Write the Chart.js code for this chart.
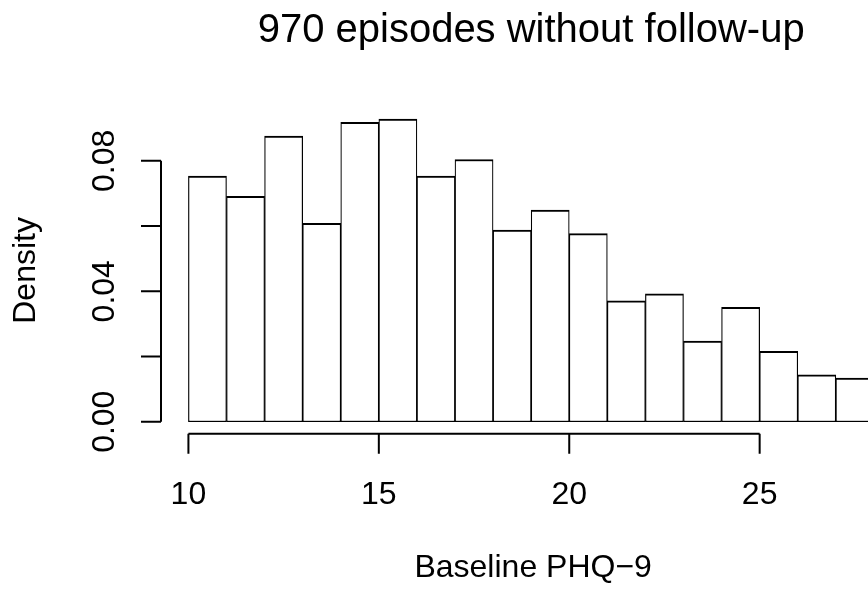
<!DOCTYPE html>
<html>
<head>
<meta charset="utf-8">
<script src="https://cdn.jsdelivr.net/npm/chart.js@4/dist/chart.umd.min.js"></script>
<style>
  html, body { margin: 0; padding: 0; background: #fff; }
  canvas { display: block; }
</style>
</head>
<body>
<canvas id="hist" width="868" height="592"></canvas>
<script>
// === DATA ===
const binStarts = [10, 11, 12, 13, 14, 15, 16, 17, 18, 19, 20, 21, 22, 23, 24, 25, 26, 27];
const densities = [0.0753, 0.0691, 0.0876, 0.0608, 0.0918, 0.0928, 0.0753, 0.0804, 0.0588,
                   0.0649, 0.0577, 0.0371, 0.0392, 0.0247, 0.0351, 0.0216, 0.0144, 0.0134];
const xTicks = [10, 15, 20, 25];
const yTicks = [0, 0.02, 0.04, 0.06, 0.08];
const yLabelTicks = [0, 0.04, 0.08];
const yLabelText = ["0.00", "0.04", "0.08"];
const titleText = "970 episodes without follow-up";
const xTitle = "Baseline PHQ\u22129";
const yTitle = "Density";

const FONT = '"Liberation Sans", Arial, Helvetica, sans-serif';

// R-style axes, titles, labels
const rAxes = {
  id: "rAxes",
  afterDraw(chart) {
    const { ctx, scales: { x, y }, chartArea } = chart;
    ctx.save();
    ctx.strokeStyle = "#000";
    ctx.fillStyle = "#000";
    ctx.lineWidth = 2;
    ctx.lineCap = "butt";

    // x axis
    const ay = chartArea.bottom;
    ctx.beginPath();
    ctx.moveTo(x.getPixelForValue(xTicks[0]), ay);
    ctx.lineTo(x.getPixelForValue(xTicks[xTicks.length - 1]), ay);
    xTicks.forEach(v => {
      const px = x.getPixelForValue(v);
      ctx.moveTo(px, ay);
      ctx.lineTo(px, ay + 20);
    });
    ctx.stroke();
    ctx.font = "32px " + FONT;
    ctx.textAlign = "center";
    ctx.textBaseline = "alphabetic";
    xTicks.forEach(v => ctx.fillText(String(v), x.getPixelForValue(v), 504));

    // y axis
    const ax = chartArea.left;
    ctx.beginPath();
    ctx.moveTo(ax, y.getPixelForValue(yTicks[0]));
    ctx.lineTo(ax, y.getPixelForValue(yTicks[yTicks.length - 1]));
    yTicks.forEach(v => {
      const py = y.getPixelForValue(v);
      ctx.moveTo(ax, py);
      ctx.lineTo(ax - 20, py);
    });
    ctx.stroke();
    yLabelTicks.forEach((v, i) => {
      ctx.save();
      ctx.translate(114, y.getPixelForValue(v));
      ctx.rotate(-Math.PI / 2);
      ctx.fillText(yLabelText[i], 0, 0);
      ctx.restore();
    });

    // axis titles
    const cx = (x.getPixelForValue(9.28) + x.getPixelForValue(28.72)) / 2;
    ctx.fillText(xTitle, cx + 2, 577);
    ctx.save();
    ctx.translate(35, (chartArea.top + chartArea.bottom) / 2);
    ctx.rotate(-Math.PI / 2);
    ctx.fillText(yTitle, 0, 0);
    ctx.restore();

    // main title
    ctx.font = "40px " + FONT;
    ctx.fillText(titleText, cx, 42);
    ctx.restore();
  }
};

new Chart(document.getElementById("hist"), {
  type: "bar",
  data: {
    datasets: [{
      data: binStarts.map((b, i) => ({ x: b + 0.5, y: densities[i] })),
      backgroundColor: "#fff",
      borderColor: "#000",
      borderWidth: { top: 2, bottom: 1.2, left: 1.2, right: 1.2 },
      borderSkipped: false,
      barPercentage: 1,
      categoryPercentage: 1
    }]
  },
  options: {
    responsive: false,
    animation: false,
    devicePixelRatio: 1,
    layout: { padding: { top: 107, left: 0, right: 0, bottom: 0 } },
    plugins: { legend: { display: false }, tooltip: { enabled: false }, title: { display: false } },
    scales: {
      x: {
        type: "linear", min: 9.28, max: 27.845, offset: false, bounds: "data",
        grid: { display: false }, border: { display: false }, ticks: { display: false },
        afterFit: s => { s.height = 592 - 433.8; }
      },
      y: {
        type: "linear", min: -0.0037, max: 0.0965, bounds: "data",
        grid: { display: false }, border: { display: false }, ticks: { display: false },
        afterFit: s => { s.width = 161; }
      }
    }
  },
  plugins: [rAxes]
});
</script>
</body>
</html>
